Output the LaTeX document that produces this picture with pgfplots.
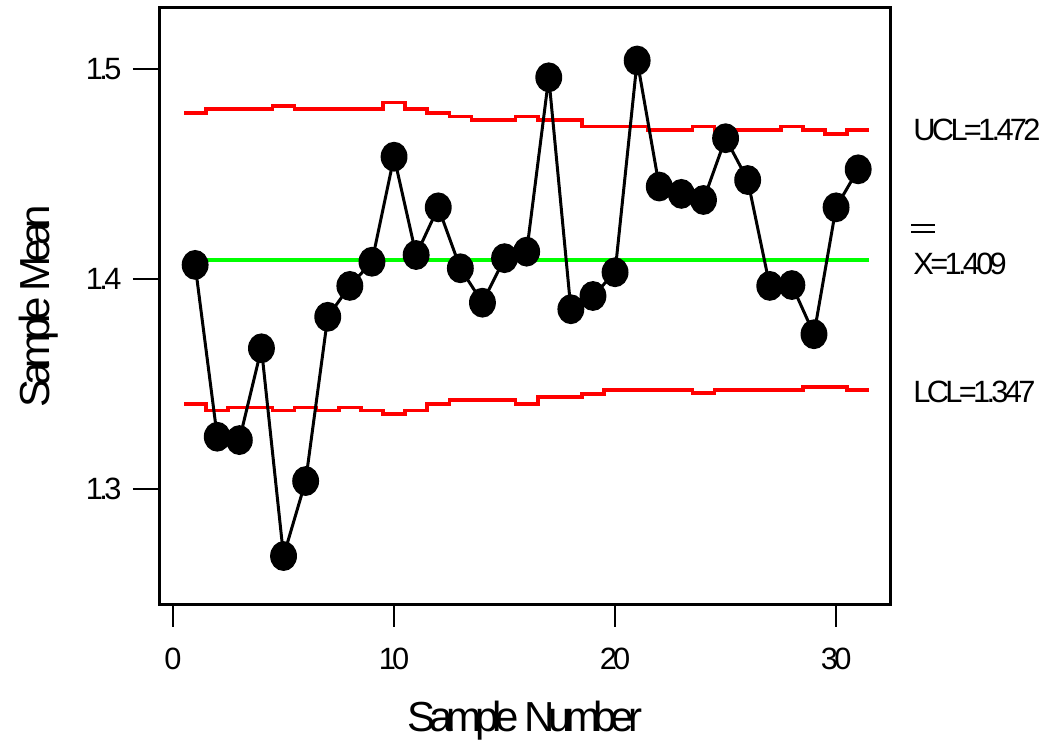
\documentclass[border=0pt]{standalone}
\usepackage{fontspec}
\setmainfont{Liberation Sans}[LetterSpace=-12]
\newfontfamily\labelfont{Liberation Sans}[LetterSpace=-15]
\usepackage{pgfplots}
\pgfplotsset{compat=1.18}
\begin{document}
\begin{tikzpicture}
\useasboundingbox (-80pt,-71pt) rectangle (441pt,302.5pt);
\begin{axis}[
  at={(0,0)}, anchor=south west,
  scale only axis, width=365pt, height=298.5pt,
  xmin=-0.59, xmax=32.44, ymin=1.2448, ymax=1.529,
  xtick={0,10,20,30}, ytick={1.3,1.4,1.5},
  tick align=outside, xtick pos=bottom, ytick pos=left,
  xtick style={/pgfplots/major tick length=11pt, line width=1.2pt, black},
  ytick style={/pgfplots/major tick length=13.5pt, line width=1.2pt, black},
  axis line style={line width=1.5pt},
  /pgf/number format/assume math mode=true,
  yticklabel style={/pgf/number format/fixed, /pgf/number format/precision=1, xshift=-11.5pt},
  xticklabel style={yshift=-13.5pt},
  tick label style={font=\fontsize{15.4}{18}\selectfont},
  xlabel={Sample Number}, ylabel={Sample Mean},
  every axis x label/.style={at={(axis description cs:0.5,-0.2127)}, anchor=base, font=\labelfont\fontsize{21}{24}\selectfont},
  every axis y label/.style={at={(axis description cs:-0.1507,0.5)}, anchor=base, rotate=90, font=\labelfont\fontsize{21}{24}\selectfont},
]
\addplot[red, line width=1.8pt, const plot mark mid] coordinates {
(0.5,1.4789) (1,1.4789) (2,1.4808) (3,1.4808) (4,1.4808) (5,1.4824) (6,1.4808) (7,1.4808) (8,1.4808) (9,1.4808)
(10,1.4840) (11,1.4810) (12,1.4789) (13,1.4773) (14,1.4757) (15,1.4757) (16,1.4773) (17,1.4757) (18,1.4757)
(19,1.4725) (20,1.4725) (21,1.4725) (22,1.4710) (23,1.4710) (24,1.4725) (25,1.4710) (26,1.4710) (27,1.4710)
(28,1.4725) (29,1.4710) (30,1.4689) (31,1.4710) (31.5,1.4710)};
\addplot[red, line width=1.8pt, const plot mark mid] coordinates {
(0.5,1.3405) (1,1.3405) (2,1.3373) (3,1.3389) (4,1.3389) (5,1.3373) (6,1.3389) (7,1.3373) (8,1.3389) (9,1.3373)
(10,1.3356) (11,1.3373) (12,1.3405) (13,1.3424) (14,1.3424) (15,1.3424) (16,1.3405) (17,1.3437) (18,1.3437)
(19,1.3452) (20,1.3471) (21,1.3471) (22,1.3471) (23,1.3471) (24,1.3456) (25,1.3471) (26,1.3471) (27,1.3471)
(28,1.3471) (29,1.3487) (30,1.3487) (31,1.3471) (31.5,1.3471)};
\addplot[green, line width=1.8pt] coordinates {(0.5,1.409) (31.5,1.409)};
\addplot[black, line width=1.5pt, mark=*, mark size=6.7pt, mark options={xscale=0.89, fill=black, solid}] coordinates {
(1,1.4067) (2,1.3249) (3,1.3233) (4,1.3670) (5,1.2681) (6,1.3038) (7,1.3820) (8,1.3967) (9,1.4082) (10,1.4582)
(11,1.4114) (12,1.4341) (13,1.4051) (14,1.3887) (15,1.4099) (16,1.4130) (17,1.4960) (18,1.3856) (19,1.3919)
(20,1.4032) (21,1.5040) (22,1.4440) (23,1.4405) (24,1.4376) (25,1.4670) (26,1.4471) (27,1.3967) (28,1.3971)
(29,1.3737) (30,1.4341) (31,1.4522)};
\end{axis}
\node[anchor=base west, inner sep=0, font=\fontsize{15.4}{18}\selectfont] at (376.5pt,232pt) {UCL=1.472};
\node[anchor=base west, inner sep=0, font=\fontsize{15.4}{18}\selectfont] at (376.5pt,165pt) {X=1.409};
\node[anchor=base west, inner sep=0, font=\fontsize{15.4}{18}\selectfont] at (376.5pt,101pt) {LCL=1.347};
\draw[line width=1.3pt] (375.5pt,190pt) -- (387.5pt,190pt);
\draw[line width=1.3pt] (375.5pt,186.5pt) -- (387.5pt,186.5pt);
\end{tikzpicture}
\end{document}
